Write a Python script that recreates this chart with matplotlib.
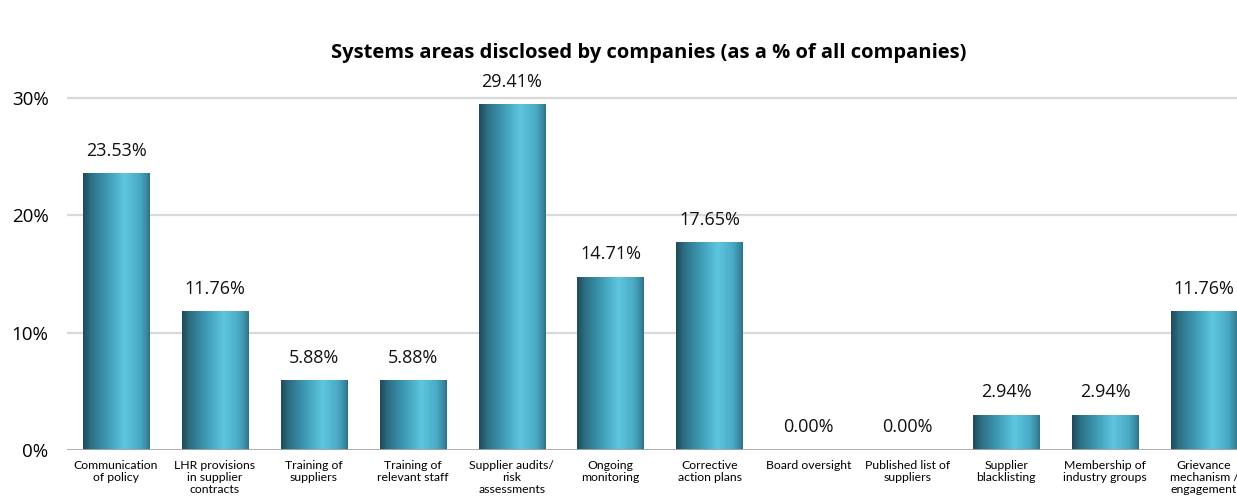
import numpy as np
import matplotlib
matplotlib.use('Agg')
import matplotlib.pyplot as plt
from matplotlib.colors import LinearSegmentedColormap
from matplotlib.ticker import FuncFormatter

categories = ['Communication\nof policy', 'LHR provisions\nin supplier\ncontracts',
              'Training of\nsuppliers', 'Training of\nrelevant staff',
              'Supplier audits/\nrisk\nassessments', 'Ongoing\nmonitoring',
              'Corrective\naction plans', 'Board oversight', 'Published list of\nsuppliers',
              'Supplier\nblacklisting', 'Membership of\nindustry groups',
              'Grievance\nmechanism /\nengagement']
values = [23.53, 11.76, 5.88, 5.88, 29.41, 14.71, 17.65, 0.00, 0.00, 2.94, 2.94, 11.76]
yticks = [0, 10, 20, 30]

plt.rcParams['font.family'] = ['Open Sans', 'DejaVu Sans']

fig = plt.figure(figsize=(12.37, 5.03), dpi=100)
ax = fig.add_axes([0.0538, 0.1054, 0.9596, 0.77])

# horizontal shading across each bar
bar_cmap = LinearSegmentedColormap.from_list(
    'cyl', [(0.0, '#1f4a59'), (0.12, '#2d6f84'), (0.35, '#3c98b2'),
            (0.62, '#5ec6df'), (0.85, '#4aaac5'), (0.95, '#3a8aa2'), (1.0, '#2f6f83')])
grad = np.linspace(0, 1, 256).reshape(1, -1)

x = np.arange(len(categories))
width = 0.67

for g in yticks[1:]:
    ax.axhline(g, color='#d9d9d9', lw=1.6, zorder=0)

for xi, v in zip(x, values):
    if v > 0:
        ax.imshow(grad, cmap=bar_cmap, aspect='auto', zorder=2,
                  extent=(xi - width / 2, xi + width / 2, 0, v))
    ax.text(xi, v + 1.2, f'{v:.2f}%', ha='center', va='bottom', fontsize=13,
            color='#111111')

ax.set_xlim(-0.5, len(categories) - 0.5)
ax.set_ylim(0, 33)

ax.axhline(0, color='#a6a6a6', lw=2, zorder=3)
for s in ax.spines.values():
    s.set_visible(False)

ax.set_xticks(x)
ax.set_xticklabels(categories, fontsize=8.8, linespacing=1.12, va='top',
                   family=['Lato', 'DejaVu Sans'])
ax.set_yticks(yticks)
ax.yaxis.set_major_formatter(FuncFormatter(lambda v, p: f'{v:.0f}%'))
ax.tick_params(axis='y', labelsize=13.5, length=0, pad=13)
ax.tick_params(axis='x', length=0, pad=7)

fig.text(0.524, 0.895, 'Systems areas disclosed by companies (as a % of all companies)',
         ha='center', va='center', fontsize=14.5, fontweight='bold')

fig.savefig('out.png', dpi=100)
